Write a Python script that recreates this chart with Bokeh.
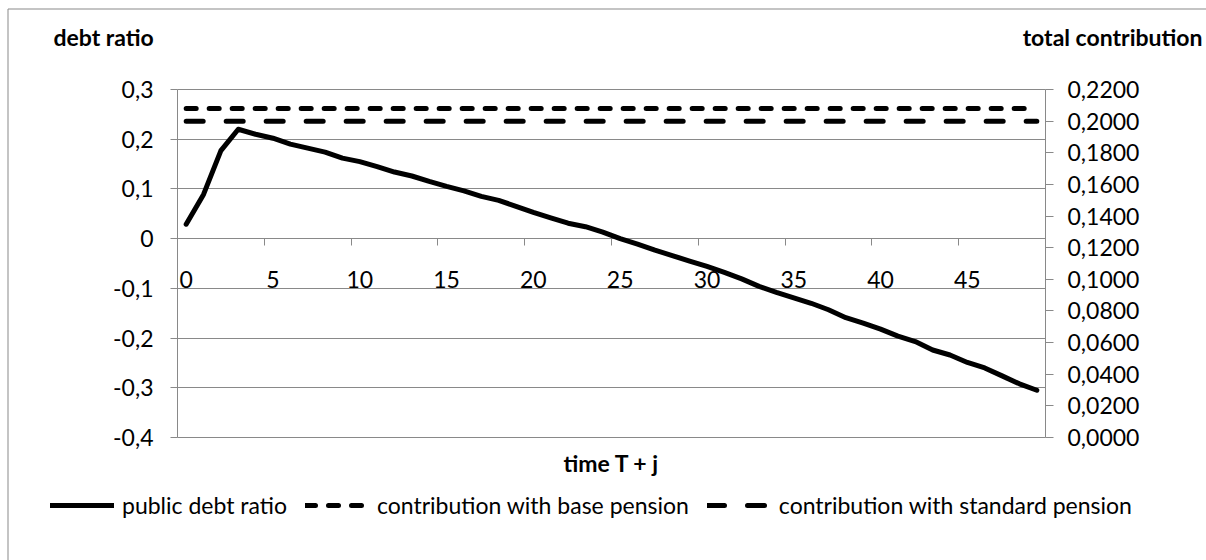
from bokeh.plotting import figure
from bokeh.models import (Range1d, LinearAxis, FixedTicker, Label, Legend, LegendItem,
                          Grid, BoxAnnotation)
from bokeh.embed import file_html
from bokeh.resources import INLINE

# ---------------- data ----------------
periods = list(range(50))
public_debt_ratio = [
    0.029, 0.089, 0.177, 0.220, 0.210, 0.202, 0.190, 0.182, 0.174, 0.162,
    0.155, 0.145, 0.134, 0.126, 0.115, 0.105, 0.096, 0.085, 0.077, 0.065,
    0.053, 0.042, 0.031, 0.024, 0.013, 0.000, -0.011, -0.023, -0.034, -0.045,
    -0.056, -0.068, -0.081, -0.096, -0.108, -0.119, -0.130, -0.143, -0.159, -0.170,
    -0.182, -0.196, -0.207, -0.224, -0.234, -0.249, -0.260, -0.276, -0.292, -0.305,
]
contribution_base_pension = [
    0.208, 0.208, 0.208, 0.208, 0.208, 0.208, 0.208, 0.208, 0.208, 0.208,
    0.208, 0.208, 0.208, 0.208, 0.208, 0.208, 0.208, 0.208, 0.208, 0.208,
    0.208, 0.208, 0.208, 0.208, 0.208, 0.208, 0.208, 0.208, 0.208, 0.208,
    0.208, 0.208, 0.208, 0.208, 0.208, 0.208, 0.208, 0.208, 0.208, 0.208,
    0.208, 0.208, 0.208, 0.208, 0.208, 0.208, 0.208, 0.208, 0.208, 0.208,
]
contribution_standard_pension = [
    0.200, 0.200, 0.200, 0.200, 0.200, 0.200, 0.200, 0.200, 0.200, 0.200,
    0.200, 0.200, 0.200, 0.200, 0.200, 0.200, 0.200, 0.200, 0.200, 0.200,
    0.200, 0.200, 0.200, 0.200, 0.200, 0.200, 0.200, 0.200, 0.200, 0.200,
    0.200, 0.200, 0.200, 0.200, 0.200, 0.200, 0.200, 0.200, 0.200, 0.200,
    0.200, 0.200, 0.200, 0.200, 0.200, 0.200, 0.200, 0.200, 0.200, 0.200,
]
left_ticks = [-0.4, -0.3, -0.2, -0.1, 0.0, 0.1, 0.2, 0.3]
left_labels = ["-0,4", "-0,3", "-0,2", "-0,1", "0", "0,1", "0,2", "0,3"]
right_ticks = [0.0, 0.02, 0.04, 0.06, 0.08, 0.1, 0.12, 0.14, 0.16, 0.18, 0.2, 0.22]
right_labels = ["0,0000", "0,0200", "0,0400", "0,0600", "0,0800", "0,1000",
                "0,1200", "0,1400", "0,1600", "0,1800", "0,2000", "0,2200"]
x_label_ticks = [0, 5, 10, 15, 20, 25, 30, 35, 40, 45]
x_labels = ["0", "5", "10", "15", "20", "25", "30", "35", "40", "45"]
series_names = ["public debt ratio", "contribution with base pension",
                "contribution with standard pension"]
left_title = "debt ratio"
right_title = "total contribution"
x_title = "time T + j"

# ---------------- layout (canvas pixels) ----------------
W, H = 1206, 560
PL, PR, PT, PB = 177, 1045, 89, 437      # plot area edges
GRAY = "#898989"
FONT = "Lato"
FS = "23px"

x_lo, x_hi = periods[0] - 0.5, periods[-1] + 0.5
y_lo, y_hi = left_ticks[0], left_ticks[-1]
c_lo, c_hi = right_ticks[0], right_ticks[-1]
kx = (x_hi - x_lo) / (PR - PL)
ky = (y_hi - y_lo) / (PB - PT)
kc = (c_hi - c_lo) / (PB - PT)


def X(px):
    return x_lo + (px - PL) * kx


def Y(py):
    return y_hi - (py - PT) * ky


p = figure(width=W, height=H, output_backend="svg", toolbar_location=None,
           x_range=Range1d(X(0), X(W)), y_range=Range1d(Y(H), Y(0)),
           x_axis_location=None, y_axis_location=None,
           min_border=0, min_border_left=0, min_border_right=0,
           min_border_top=0, min_border_bottom=0)
p.extra_y_ranges = {"contrib": Range1d(c_lo - (H - PB) * kc, c_hi + PT * kc)}
p.outline_line_color = None
p.background_fill_color = "white"
p.border_fill_color = "white"
p.xgrid.visible = False
p.ygrid.visible = False

# outer chart-area border (only left/top visible in the crop)
p.add_layout(BoxAnnotation(left=X(7.5), top=Y(8.5), right=X(W + 30), bottom=Y(H + 30),
                           fill_color=None, fill_alpha=0, line_color=GRAY,
                           line_alpha=1, line_width=1, level="underlay"))

# horizontal gridlines spanning the plot area only
if "cross_bounds" in Grid.properties():
    grid = Grid(dimension=1, ticker=FixedTicker(ticks=left_ticks),
                cross_bounds=(x_lo, x_hi), grid_line_color=GRAY, grid_line_width=1)
    p.add_layout(grid, "center")
else:
    p.segment(x0=x_lo, x1=x_hi, y0=left_ticks, y1=left_ticks,
              line_color=GRAY, line_width=1, level="underlay")


def style_axis(ax):
    ax.axis_line_color = GRAY
    ax.major_tick_line_color = GRAY
    ax.minor_tick_line_color = None
    ax.major_label_text_font = FONT
    ax.major_label_text_font_size = FS
    ax.major_label_text_color = "black"


yl = LinearAxis(fixed_location=x_lo, bounds=(y_lo, y_hi),
                ticker=FixedTicker(ticks=left_ticks),
                major_label_overrides=dict(zip(left_ticks, left_labels)))
style_axis(yl)
yl.major_tick_out = 7
yl.major_tick_in = 0
yl.major_label_standoff = 17
p.add_layout(yl, "left")

yr = LinearAxis(y_range_name="contrib", fixed_location=x_hi, bounds=(c_lo, c_hi),
                ticker=FixedTicker(ticks=right_ticks),
                major_label_overrides=dict(zip(right_ticks, right_labels)))
style_axis(yr)
yr.major_tick_out = 8
yr.major_tick_in = 0
yr.major_label_standoff = 14
p.add_layout(yr, "right")

xa = LinearAxis(fixed_location=0, bounds=(x_lo, x_hi),
                ticker=FixedTicker(ticks=x_label_ticks,
                                   minor_ticks=[t - 0.5 for t in x_label_ticks]),
                major_label_overrides=dict(zip(x_label_ticks, x_labels)))
style_axis(xa)
xa.major_tick_line_color = None
xa.major_tick_out = 0
xa.major_tick_in = 0
xa.minor_tick_line_color = GRAY
xa.minor_tick_out = 7
xa.minor_tick_in = 0
xa.major_label_standoff = 25
p.add_layout(xa, "below")

r1 = p.line(periods, public_debt_ratio, line_width=5, line_color="black",
            line_join="round", line_cap="round", level="overlay")
r2 = p.line(periods, contribution_base_pension, y_range_name="contrib",
            line_width=5, line_color="black", line_dash="10 13", line_cap="round",
            level="overlay")
r3 = p.line(periods, contribution_standard_pension, y_range_name="contrib",
            line_width=5, line_color="black", line_dash="17 23", line_cap="round",
            level="overlay")

legend = Legend(items=[LegendItem(label=series_names[0], renderers=[r1]),
                       LegendItem(label=series_names[1], renderers=[r2]),
                       LegendItem(label=series_names[2], renderers=[r3])],
                orientation="horizontal", location=(50, H - 24 - 495),
                padding=0, margin=0, spacing=18, label_standoff=8,
                glyph_width=64, glyph_height=24, label_height=24,
                border_line_color=None, background_fill_alpha=0,
                label_text_font=FONT, label_text_font_size=FS,
                label_text_color="black")
p.add_layout(legend, "center")

p.add_layout(Label(x=X(53), y=Y(36), text=left_title, text_font=FONT,
                   text_font_style="bold", text_font_size=FS, text_color="black",
                   text_baseline="middle", text_align="left"))
p.add_layout(Label(x=X(1202), y=Y(36), text=right_title, text_font=FONT,
                   text_font_style="bold", text_font_size=FS, text_color="black",
                   text_baseline="middle", text_align="right"))
p.add_layout(Label(x=X(611), y=Y(462), text=x_title, text_font=FONT,
                   text_font_style="bold", text_font_size=FS, text_color="black",
                   text_baseline="middle", text_align="center"))

open("out.html", "w").write(file_html(p, INLINE))
